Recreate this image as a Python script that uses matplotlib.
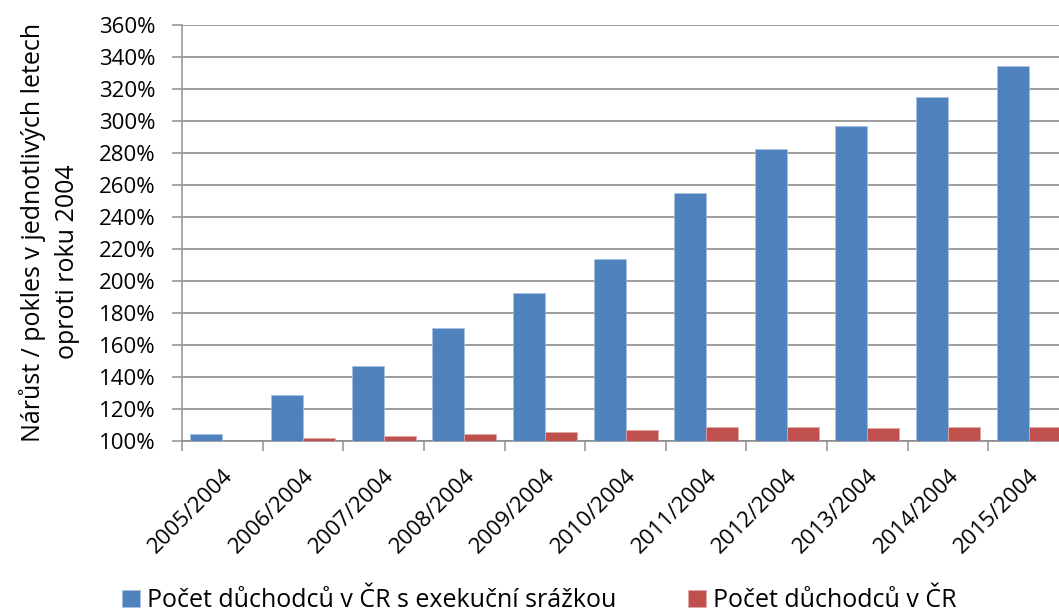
import numpy as np
import matplotlib.pyplot as plt
from matplotlib.ticker import FuncFormatter, FixedLocator

plt.rcParams['font.family'] = ['Open Sans', 'DejaVu Sans']

categories = ['2005/2004', '2006/2004', '2007/2004', '2008/2004', '2009/2004', '2010/2004',
              '2011/2004', '2012/2004', '2013/2004', '2014/2004', '2015/2004']
exekuce = [104.4, 128.9, 147.0, 170.8, 192.7, 214.0, 255.0, 282.5, 297.0, 315.2, 334.5]
celkem = [100.5, 102.1, 103.3, 104.8, 106.0, 107.1, 109.2, 108.8, 108.6, 108.8, 109.2]
labels = ['Počet důchodců v ČR s exekuční srážkou', 'Počet důchodců v ČR']
ylabel_lines = ['Nárůst / pokles v jednotlivých letech', 'oproti roku 2004']

blue = '#4f81bd'
red = '#c0504d'

fig = plt.figure(figsize=(10.59, 6.13), dpi=100)
ax = fig.add_axes([0.1719, 0.280, 0.8281, 0.6787])

x = np.arange(len(categories))
w = 32 / 80.6
base = 100
b1 = ax.bar(x - w / 2, np.array(exekuce) - base, w, bottom=base, color=blue,
            edgecolor='#a7c0e0', linewidth=0.5, zorder=3)
b2 = ax.bar(x + w / 2, np.array(celkem) - base, w, bottom=base, color=red,
            edgecolor='#e0a8a6', linewidth=0.5, zorder=3)

ax.set_ylim(100, 360)
ax.set_yticks(np.arange(100, 361, 20))
ax.yaxis.set_major_formatter(FuncFormatter(lambda v, p: f'{v:.0f}%'))
ax.set_xlim(-0.5, 10.5 - 10 / 80.6)

ax.set_xticks(x)
ax.set_xticklabels(categories, rotation=45, ha='right', va='top', rotation_mode='anchor')
ax.xaxis.set_minor_locator(FixedLocator(np.arange(-0.5, 11, 1)))
ax.tick_params(axis='x', which='major', length=0, pad=17, labelsize=16)
ax.tick_params(axis='x', which='minor', length=7, color='#9a9a9a', width=1.2)
ax.tick_params(axis='y', length=7, color='#9a9a9a', width=1.2, pad=12, labelsize=16)

ax.grid(axis='y', color='#8c8c8c', linewidth=1.2, zorder=0)
ax.set_axisbelow(True)
for s in ['top', 'right']:
    ax.spines[s].set_visible(False)
ax.spines['left'].set_color('#9a9a9a')
ax.spines['left'].set_linewidth(1.2)
ax.spines['bottom'].set_color('#8c8c8c')
ax.spines['bottom'].set_linewidth(1.2)

fig.text(0.031, 1 - 232 / 613, ylabel_lines[0], rotation=90, ha='center', va='center',
         fontsize=18)
fig.text(0.064, 1 - 262 / 613, ylabel_lines[1], rotation=90, ha='center', va='center',
         fontsize=18)

fig.legend([b1, b2], labels, loc='lower left', bbox_to_anchor=(0.094, -0.037), ncol=2,
           frameon=False, fontsize=18, handlelength=0.7, handleheight=0.7,
           handletextpad=0.3, columnspacing=2.88)

fig.savefig('out.png', dpi=100)
